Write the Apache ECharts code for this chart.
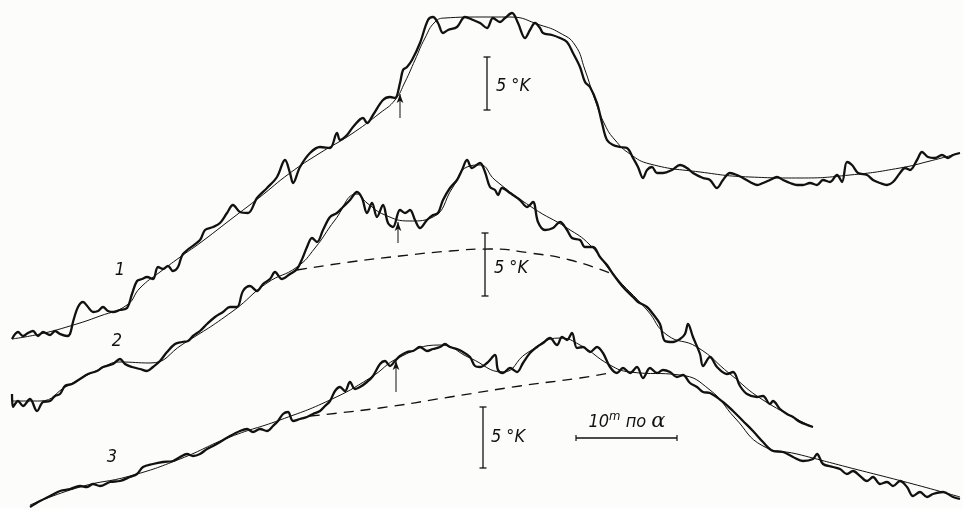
<!DOCTYPE html>
<html>
<head>
<meta charset="utf-8">
<script src="https://cdn.jsdelivr.net/npm/echarts@6/dist/echarts.min.js"></script>
<style>
html, body { margin: 0; padding: 0; background: #fcfcfb; }
#chart { width: 963px; height: 508px; }
</style>
</head>
<body>
<div id="chart"></div>
<script>
// x: minutes of right ascension, y: antenna temperature (chart divisions), curves offset
var trace1 = [[1.2,16.9],[1.8,17.6],[2.3,17.2],[2.8,17.5],[3.3,17.7],[3.8,17.2],[4.3,17.6],[5.0,17.3],[5.5,17.7],[6.0,17.4],[6.7,17.2],[7.0,17.4],[7.3,18.6],[7.8,20.1],[8.3,20.6],[8.8,20.1],[9.3,19.6],[9.8,19.7],[10.3,20.1],[10.8,19.7],[11.3,19.6],[12.0,19.8],[12.7,20.0],[13.2,21.4],[13.7,22.7],[14.2,22.9],[14.7,23.1],[15.3,22.9],[15.8,24.1],[16.3,23.9],[16.8,24.2],[17.3,23.7],[17.8,24.1],[18.3,25.4],[20.0,26.8],[20.5,27.8],[21.3,28.1],[22.0,28.5],[22.7,29.5],[23.3,30.3],[24.0,29.6],[24.8,29.5],[25.7,31.0],[26.7,32.0],[27.7,33.1],[28.5,34.8],[29.0,33.5],[29.3,32.5],[30.0,34.1],[31.0,35.5],[32.0,36.1],[33.0,36.0],[33.7,37.5],[34.0,36.8],[34.7,37.3],[35.3,38.1],[36.3,39.0],[36.7,38.5],[37.3,39.3],[38.3,40.8],[39.0,41.1],[39.5,41.0],[40.0,42.5],[40.3,43.8],[40.7,44.1],[41.2,44.8],[42.0,46.5],[42.8,48.8],[43.3,49.1],[43.8,48.5],[44.3,47.5],[44.8,47.8],[45.7,48.1],[46.5,49.1],[47.3,48.8],[48.0,48.5],[48.7,48.0],[49.3,49.0],[50.0,48.6],[50.5,49.0],[51.2,49.5],[51.8,48.5],[52.5,47.0],[53.0,47.8],[53.5,48.5],[54.0,48.0],[54.3,47.5],[55.2,47.3],[56.0,47.0],[56.7,46.6],[57.3,45.5],[58.0,44.1],[58.5,42.6],[59.0,42.1],[59.7,40.5],[60.2,38.5],[60.7,36.8],[61.3,36.3],[62.0,36.1],[62.7,36.0],[63.3,35.0],[63.8,34.1],[64.3,33.0],[64.7,33.8],[65.2,34.1],[65.7,33.5],[66.3,33.5],[67.2,33.8],[68.0,34.3],[68.7,34.0],[69.3,33.5],[70.3,33.0],[71.0,32.8],[71.7,32.0],[72.3,32.8],[73.0,33.5],[73.7,33.3],[74.3,33.0],[75.0,32.6],[75.7,32.3],[76.3,32.5],[77.0,32.8],[77.7,33.1],[78.3,32.8],[79.0,32.5],[79.7,32.3],[80.3,32.3],[81.0,32.5],[81.7,32.3],[82.3,32.8],[83.0,32.6],[83.7,33.3],[84.2,32.6],[84.7,34.6],[85.2,34.3],[85.8,33.5],[86.7,33.3],[87.3,32.8],[88.0,32.5],[88.7,32.3],[89.3,32.6],[90.0,33.5],[90.5,34.0],[91.0,33.8],[91.7,34.8],[92.2,35.6],[92.8,35.1],[93.5,35.0],[94.2,35.3],[94.8,35.0],[95.3,35.3],[96.0,35.5]];
var fit1 = [[1.2,16.9],[4.0,17.4],[7.0,18.2],[10.0,19.2],[12.7,20.3],[14.0,22.0],[16.0,23.6],[18.3,25.3],[20.0,26.5],[23.0,28.8],[26.0,31.1],[29.0,33.5],[32.0,35.5],[35.0,37.3],[38.0,39.5],[39.5,40.8],[40.5,42.6],[41.5,44.8],[42.5,47.0],[43.5,48.6],[44.5,49.0],[48.0,49.1],[51.0,49.1],[54.0,48.3],[56.0,47.5],[57.5,46.3],[58.5,43.8],[59.5,40.8],[60.5,38.3],[61.5,36.8],[63.0,35.4],[65.0,34.4],[70.0,33.6],[75.0,33.1],[80.0,33.0],[85.0,33.3],[90.0,34.0],[93.0,34.7],[96.0,35.5]];

var trace2 = [[1.2,11.4],[1.3,10.1],[1.8,10.7],[2.3,10.2],[3.0,10.9],[3.7,9.7],[4.3,10.6],[5.0,10.7],[5.5,11.2],[6.0,11.4],[6.5,12.2],[7.2,12.4],[8.0,12.9],[8.8,13.4],[9.7,13.7],[10.3,14.1],[11.3,14.4],[12.0,14.9],[12.5,14.4],[13.2,14.1],[14.0,13.9],[14.7,13.7],[15.3,14.1],[16.0,14.7],[16.7,15.6],[17.5,16.4],[18.2,16.6],[18.8,16.7],[19.3,17.2],[20.0,17.7],[20.7,18.4],[21.5,19.1],[22.3,19.6],[23.0,20.1],[23.7,20.1],[24.3,21.7],[25.0,22.2],[25.7,21.7],[26.3,22.4],[27.0,22.9],[27.5,23.6],[28.2,22.9],[29.0,23.4],[29.7,23.9],[30.3,25.1],[30.7,26.1],[31.2,27.0],[31.7,26.6],[32.3,27.8],[33.0,29.1],[33.7,29.5],[34.3,30.1],[35.0,30.8],[35.7,31.6],[36.2,31.0],[36.7,29.5],[37.2,30.5],[37.7,29.1],[38.3,30.3],[38.8,28.5],[39.3,28.1],[40.0,29.8],[40.5,29.5],[41.0,29.8],[41.5,28.8],[42.0,28.0],[42.7,28.8],[43.3,29.3],[43.8,29.5],[44.3,30.8],[45.0,32.0],[45.7,32.8],[46.2,33.8],[46.7,34.8],[47.2,34.0],[48.0,34.5],[48.5,33.6],[49.0,32.1],[49.5,31.8],[49.8,31.3],[50.2,32.0],[51.0,31.5],[52.0,30.8],[52.7,30.1],[53.3,30.6],[53.8,28.6],[54.5,27.8],[55.3,28.0],[56.0,28.6],[56.7,27.8],[57.2,27.0],[58.0,26.8],[58.5,26.1],[59.3,26.1],[60.0,25.1],[60.7,24.3],[61.3,23.4],[62.3,22.1],[63.3,21.1],[63.8,20.6],[64.7,20.1],[65.3,19.4],[66.0,18.4],[66.5,16.7],[67.3,16.6],[68.0,16.9],[68.5,17.4],[68.8,18.4],[69.3,17.1],[70.0,15.4],[70.3,14.2],[71.0,15.1],[71.7,14.1],[72.7,13.4],[73.3,13.6],[74.0,12.2],[74.7,11.4],[75.7,11.1],[76.3,11.2],[77.0,10.4],[77.3,10.7],[78.0,9.9],[78.7,9.4],[79.3,9.1],[80.0,8.6],[81.3,8.1]];
var fit2 = [[1.2,10.7],[4.0,10.7],[6.7,12.2],[10.0,13.9],[12.0,14.6],[15.0,14.5],[18.3,16.4],[23.3,19.7],[26.7,22.5],[29.7,24.1],[31.5,26.0],[33.5,28.8],[35.7,31.4],[36.7,30.5],[38.5,29.3],[41.0,28.7],[43.3,29.1],[45.3,32.1],[46.7,34.1],[48.0,34.3],[49.5,32.8],[53.3,30.0],[56.7,28.0],[59.0,26.3],[61.3,23.4],[64.7,19.8],[66.7,17.3],[69.7,16.1],[73.0,13.4],[76.3,10.8],[81.3,8.1]];
var base2 = [[29.7,23.8],[35.0,24.6],[40.0,25.2],[45.0,25.7],[49.0,25.9],[53.0,25.5],[57.0,24.8],[61.0,23.5]];

var trace3 = [[3.0,0.1],[4.0,0.7],[5.0,1.2],[6.0,1.7],[7.0,1.9],[8.0,2.2],[8.7,2.1],[9.3,2.4],[10.0,2.2],[11.0,2.6],[12.0,2.7],[13.0,3.1],[13.7,3.4],[14.3,4.1],[15.3,4.4],[16.3,4.6],[17.3,4.7],[18.0,5.1],[18.7,5.4],[19.3,5.2],[20.0,5.4],[20.7,5.9],[21.3,6.2],[22.0,6.6],[23.0,7.2],[24.0,7.7],[24.7,7.9],[25.3,7.6],[26.0,7.9],[26.7,7.7],[27.3,8.2],[27.8,8.7],[28.3,9.4],[28.8,9.6],[29.3,8.7],[30.0,8.9],[30.7,9.1],[31.3,9.4],[32.0,9.7],[32.5,10.2],[33.0,10.7],[33.5,11.7],[34.0,12.1],[34.5,11.7],[35.0,12.6],[35.5,11.9],[36.0,12.1],[36.7,12.6],[37.3,13.2],[38.0,14.4],[38.5,14.7],[39.0,14.2],[39.5,14.7],[40.0,15.2],[40.7,15.6],[41.3,15.7],[42.0,16.1],[42.7,15.7],[43.3,15.9],[44.0,16.1],[44.5,16.4],[45.0,16.1],[45.7,15.9],[46.3,15.6],[47.0,15.1],[47.5,14.2],[48.0,14.1],[48.7,14.5],[49.5,15.3],[49.8,13.8],[50.3,13.5],[51.0,14.0],[51.7,13.6],[52.3,14.5],[53.0,15.5],[53.7,16.1],[54.3,16.5],[55.0,17.0],[55.7,16.3],[56.2,17.1],[56.7,16.8],[57.2,17.5],[57.7,16.0],[58.3,16.1],[59.0,15.6],[59.7,16.1],[60.3,15.5],[61.0,14.1],[61.7,13.5],[62.3,14.0],[63.0,13.5],[63.7,14.1],[64.3,13.0],[65.0,14.0],[65.7,13.5],[66.3,13.8],[67.0,13.6],[67.7,13.1],[68.3,13.3],[69.0,12.5],[69.7,12.1],[70.3,11.6],[71.0,11.5],[72.3,10.6],[73.3,9.7],[74.3,8.7],[75.3,7.7],[76.3,6.6],[77.3,5.7],[78.3,5.6],[79.3,5.1],[80.3,4.7],[81.3,4.9],[81.7,5.4],[82.3,4.4],[83.3,4.1],[84.0,3.9],[84.7,3.4],[85.3,3.7],[86.0,3.2],[86.7,2.7],[87.3,3.1],[88.0,2.4],[88.7,2.6],[89.3,2.2],[90.0,2.7],[90.7,2.1],[91.3,1.2],[92.0,1.6],[92.7,1.1],[93.3,1.4],[94.3,1.6],[95.3,1.1],[96.0,0.9]];
var fit3 = [[3.0,0.3],[8.0,2.1],[13.0,3.2],[18.0,4.9],[23.0,7.1],[28.0,8.8],[33.0,10.8],[37.0,13.0],[40.0,15.1],[44.0,16.3],[47.0,15.0],[50.3,13.6],[52.7,15.5],[56.0,17.0],[58.0,16.3],[61.0,14.3],[63.0,13.6],[68.0,13.3],[71.0,11.8],[73.5,9.0],[76.3,6.2],[79.7,5.4],[84.7,4.1],[91.3,2.4],[96.0,1.1]];
var base3 = [[31.0,9.2],[38.0,10.0],[45.0,11.1],[52.0,12.2],[58.0,13.0],[61.0,13.5]];

// arrows marking the source position: [x, from, to]
var arrows = [[40.0,39.0,41.4],[39.8,26.5,28.6],[39.6,11.6,14.7]];
// 5 K scale bars: [x, bottom, top]
var kBars = [[48.7,39.8,45.1],[48.5,21.2,27.5],[48.3,4.0,10.1]];
var kLabels = [[51.3,42.2],[51.1,24.0],[50.8,7.1]];
var curveNames = ['1','2','3'];
var curveNamePos = [[12.0,23.8],[11.7,16.7],[11.2,5.1]];
// 10 minutes of RA scale
var raBar = [[57.6,7.0],[67.7,7.0]];
var raLabelPos = [62.7,8.6];

var ink = '#111';
var font = '"Liberation Sans Narrow", "DejaVu Sans Condensed", "Liberation Sans", sans-serif';

function trace(data){
    return {type: 'line', data: data, smooth: 0.35, showSymbol: false, silent: true,
        lineStyle: {color: ink, width: 2.3}, z: 3};
}
function fit(data){
    return {type: 'line', data: data, smooth: true, showSymbol: false, silent: true,
        lineStyle: {color: ink, width: 1}, z: 2};
}
function baseline(data){
    return {type: 'line', data: data, smooth: true, showSymbol: false, silent: true,
        lineStyle: {color: ink, width: 1.3, type: [10, 7]}, z: 2};
}
function text(pos, str, size){
    return {type: 'scatter', data: [pos], symbolSize: 0, silent: true, itemStyle: {color: ink, opacity: 1},
        label: {show: true, position: 'inside', formatter: str, color: ink, opacity: 1, textBorderWidth: 0,
            fontSize: size, fontStyle: 'italic', fontFamily: font}};
}

var series = [trace(trace1), fit(fit1), trace(trace2), fit(fit2), baseline(base2),
    trace(trace3), fit(fit3), baseline(base3)];

for (var i = 0; i < arrows.length; i++) {
    var a = arrows[i];
    series.push({type: 'line', silent: true, showSymbol: true,
        data: [{value: [a[0], a[1]], symbol: 'none'},
               {value: [a[0], a[2]], symbol: 'arrow', symbolSize: [5, 9]}],
        itemStyle: {color: ink}, lineStyle: {color: ink, width: 1}});
}
for (var j = 0; j < kBars.length; j++) {
    var b = kBars[j];
    series.push({type: 'line', silent: true, showSymbol: true, symbol: 'rect', symbolSize: [7, 1.3],
        data: [[b[0], b[1]], [b[0], b[2]]],
        itemStyle: {color: ink}, lineStyle: {color: ink, width: 1.3}});
    series.push(text(kLabels[j], '5 °K', 18));
}
for (var k = 0; k < curveNames.length; k++) {
    series.push(text(curveNamePos[k], curveNames[k], 18));
}
series.push({type: 'line', silent: true, showSymbol: true, symbol: 'rect', symbolSize: [1.2, 6],
    data: raBar, itemStyle: {color: ink}, lineStyle: {color: ink, width: 1.3}});
series.push({type: 'scatter', data: [raLabelPos], symbolSize: 0, silent: true, itemStyle: {color: ink, opacity: 1},
    label: {show: true, position: 'inside', formatter: '{n|10}{s|m}{n| по }{a|α}', color: ink, opacity: 1, textBorderWidth: 0,
        rich: {
            n: {fontSize: 18, fontStyle: 'italic', fontFamily: font, color: ink},
            s: {fontSize: 13, fontStyle: 'italic', fontFamily: font, color: ink, padding: [0, 0, 10, 0]},
            a: {fontSize: 21, fontStyle: 'italic', fontFamily: 'DejaVu Serif, serif', color: ink}
        }}});

var chart = echarts.init(document.getElementById('chart'));
chart.setOption({
    backgroundColor: '#fcfcfb',
    animation: false,
    grid: {left: 0, right: 0, top: 0, bottom: 0},
    xAxis: {type: 'value', min: 0, max: 96.3, show: false},
    yAxis: {type: 'value', min: 0, max: 50.8, show: false},
    series: series
});
</script>
</body>
</html>
